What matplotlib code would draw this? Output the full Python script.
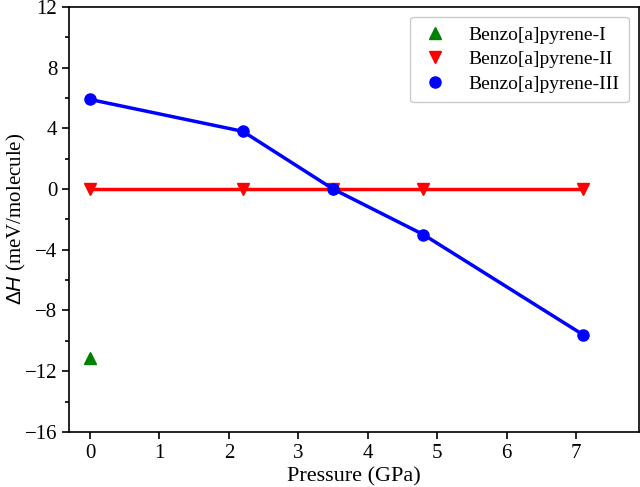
import matplotlib
matplotlib.use("Agg")
import matplotlib.pyplot as plt
from matplotlib.ticker import MultipleLocator
from matplotlib.lines import Line2D

plt.rcParams['font.family'] = ['Liberation Serif', 'DejaVu Serif']
plt.rcParams['mathtext.fontset'] = 'custom'
plt.rcParams['mathtext.rm'] = 'Liberation Serif'
plt.rcParams['mathtext.sf'] = 'Liberation Sans'
plt.rcParams['mathtext.it'] = 'Liberation Sans:italic'

p1 = [0.0]
h1 = [-11.1]
p2 = [0.0, 2.2, 3.5, 4.8, 7.1]
h2 = [0.0, 0.0, 0.0, 0.0, 0.0]
p3 = [0.0, 2.2, 3.5, 4.8, 7.1]
h3 = [5.9, 3.8, 0.0, -3.0, -9.6]
labels = ['Benzo[a]pyrene-I', 'Benzo[a]pyrene-II', 'Benzo[a]pyrene-III']

fig = plt.figure(figsize=(6.4, 4.87), dpi=100)
ax = fig.add_axes([0.108, 0.113, 0.89, 0.873])

ax.plot(p1, h1, linestyle='none', marker='^', color='green', markersize=8)
ax.plot(p2, h2, '-', color='red', lw=2.5)
ax.plot(p2, h2, linestyle='none', marker='v', color='red', markersize=8)
ax.plot(p3, h3, '-', color='blue', lw=2.5)
ax.plot(p3, h3, linestyle='none', marker='o', color='blue', markersize=8)

ax.set_xlim(-0.3, 7.9)
ax.set_ylim(-16, 12)
ax.xaxis.set_major_locator(MultipleLocator(1))
ax.yaxis.set_major_locator(MultipleLocator(4))
ax.yaxis.set_minor_locator(MultipleLocator(2))
ax.tick_params(axis='both', labelsize=15, length=5, width=1.2)
ax.tick_params(axis='y', which='minor', length=3, width=1.2)
for s in ax.spines.values():
    s.set_linewidth(1.2)

ax.set_xlabel('Pressure (GPa)', fontsize=16, labelpad=3)
ax.set_ylabel(r'$\mathsf{\Delta}\mathit{H}$ (meV/molecule)', fontsize=15)
ax.yaxis.set_label_coords(-0.072, 0.5)

handles = [Line2D([], [], linestyle='none', marker='^', color='green', markersize=8),
           Line2D([], [], linestyle='none', marker='v', color='red', markersize=8),
           Line2D([], [], linestyle='none', marker='o', color='blue', markersize=8)]
ax.legend(handles, labels, fontsize=14, loc='upper right', handletextpad=0.9,
          handlelength=1.6, borderpad=0.5, labelspacing=0.35, fancybox=True,
          edgecolor='#cccccc', framealpha=1)

fig.savefig('out.png', dpi=100)
